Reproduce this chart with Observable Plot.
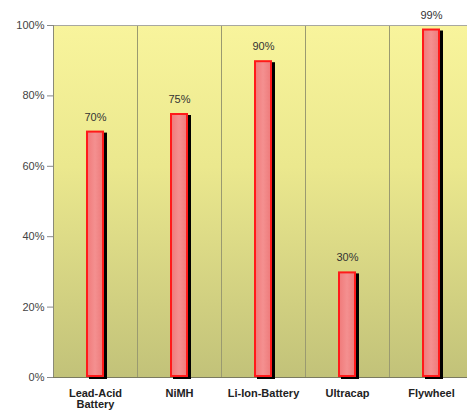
<!DOCTYPE html>
<html>
<head>
<meta charset="utf-8">
<script src="https://cdn.jsdelivr.net/npm/d3@7"></script>
<script src="https://cdn.jsdelivr.net/npm/@observablehq/plot@0.6"></script>
<style>
  html, body { margin: 0; padding: 0; background: #fff; }
  svg { display: block; }
</style>
</head>
<body>
<div id="chart"></div>
<script>
const categories = ["Lead-Acid\nBattery", "NiMH", "Li-Ion-Battery", "Ultracap", "Flywheel"];
const efficiency = [0.70, 0.75, 0.90, 0.30, 0.99];
const labels = ["70%", "75%", "90%", "30%", "99%"];
const yTicks = [0, 0.2, 0.4, 0.6, 0.8, 1.0];

const data = categories.map((c, i) => ({cat: c, value: efficiency[i], label: labels[i]}));
const dividers = categories.slice(0, 4).map(c => ({cat: c}));

const defs = () => {
  const d = d3.create("svg:defs");
  const bg = d.append("linearGradient").attr("id", "bg").attr("x1", 0).attr("y1", 0).attr("x2", 0).attr("y2", 1);
  bg.append("stop").attr("offset", "0%").attr("stop-color", "#f8f49c");
  bg.append("stop").attr("offset", "40%").attr("stop-color", "#ebe88e");
  bg.append("stop").attr("offset", "100%").attr("stop-color", "#c2c279");
  const bar = d.append("linearGradient").attr("id", "barfill").attr("x1", 0).attr("y1", 0).attr("x2", 1).attr("y2", 0);
  bar.append("stop").attr("offset", "0%").attr("stop-color", "#f07a7a");
  bar.append("stop").attr("offset", "50%").attr("stop-color", "#f49090");
  bar.append("stop").attr("offset", "100%").attr("stop-color", "#ee7a7a");
  return d.node();
};

const chart = Plot.plot({
  width: 467,
  height: 414,
  marginLeft: 53,
  marginRight: -6,
  marginTop: 25,
  marginBottom: 37,
  style: {fontFamily: "Liberation Sans, Arial, sans-serif", fontSize: "11px", background: "#fff"},
  x: {domain: categories, paddingInner: 0.78, paddingOuter: 0.39, label: null, axis: null},
  y: {domain: [0, 1], ticks: yTicks, tickFormat: d3.format(".0%"), label: null},
  marks: [
    defs,
    Plot.frame({fill: "url(#bg)", stroke: "none"}),
    Plot.ruleX(dividers, {x: "cat", dx: 42, stroke: "#9a9a70", strokeWidth: 1}),
    Plot.ruleY([1], {stroke: "#a8a8a0", strokeWidth: 1}),
    Plot.ruleX([categories[0]], {dx: -42, stroke: "#8a8a78", strokeWidth: 1}),
    Plot.ruleY([0], {stroke: "#7a7a60", strokeWidth: 1}),
    Plot.axisY({ticks: yTicks, tickFormat: d3.format(".0%"), tickSize: 6, tickPadding: 3, stroke: "#888", color: "#444", label: null, fontSize: 11}),
    Plot.axisX({tickSize: 0, tickPadding: 11, fontWeight: "bold", color: "#222", label: null, lineHeight: 1.05, fontSize: 11}),
    Plot.barY(data, {x: "cat", y: "value", fill: "#000", dx: 3, dy: 2}),
    Plot.barY(data, {x: "cat", y: "value", fill: "url(#barfill)", stroke: "#ff1a1a", strokeWidth: 2, inset: 1}),
    Plot.text(data, {x: "cat", y: "value", text: "label", dy: -14, fill: "#333", fontSize: 11})
  ]
});
document.getElementById("chart").appendChild(chart);
</script>
</body>
</html>
